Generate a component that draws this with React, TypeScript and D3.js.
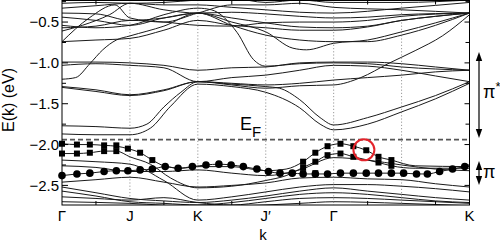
import React from "react";
import * as d3 from "d3";

const W = 500;
const H = 242;

// k-path: Γ=0, J=1, K=2, J'=3, Γ=4, K=6
const kLabels = ["Γ", "J", "K", "J′", "Γ", "K"];
const kLabelPos = [0, 1, 2, 3, 4, 6];
const dottedK = [1, 2, 3, 4, 5];
const xMinorTicks = [0.5, 1.5, 2.5, 3.5, 4.5, 5.5];
const yMajorTicks = [-0.5, -1.0, -1.5, -2.0, -2.5];
const yMinorTicks = [-0.25, -0.75, -1.25, -1.75, -2.25];
const fermiE = -1.94;
const E_MIN = -2.74;
const E_MAX = -0.23;

// pi* (conduction) bands, [k, E(eV)]
const bandsUpper: number[][][] = [
  [[0,-1.77],[0.5,-1.78],[1,-1.80],[1.25,-1.75],[1.5,-1.54],[1.75,-1.36],[2,-1.23],[2.5,-1.26],[3,-1.29],[3.2,-1.31],[3.5,-1.45],[3.8,-1.67],[4,-1.76],[4.5,-1.67],[5,-1.54],[5.5,-1.40],[6,-1.23]],
  [[0,-1.87],[0.5,-1.88],[1,-1.88],[1.3,-1.80],[1.6,-1.53],[2,-1.26],[2.5,-1.29],[3,-1.36],[3.5,-1.55],[3.8,-1.75],[4,-1.82],[4.5,-1.75],[5,-1.60],[5.5,-1.44],[6,-1.25]],
  [[0,-1.29],[0.5,-1.33],[1,-1.39],[1.5,-1.33],[2,-1.23],[2.5,-1.25],[3,-1.27],[3.5,-1.25],[4,-1.21],[4.5,-1.18],[5,-1.15],[5.5,-1.11],[6,-1.09]],
  [[0,-0.99],[0.5,-0.99],[1,-1.00],[1.5,-1.03],[2,-1.09],[2.5,-1.06],[3,-1.05],[3.5,-1.00],[4,-0.99],[4.5,-0.99],[5,-1.01],[5.5,-1.05],[6,-1.09]],
  [[0,-1.03],[0.5,-1.01],[1,-1.03],[1.5,-1.06],[2,-1.23],[2.5,-1.18],[3,-1.15],[3.5,-1.09],[4,-1.03],[4.5,-1.04],[5,-1.09],[5.5,-1.16],[6,-1.23]],
  [[0,-1.20],[0.2,-1.18],[0.41,-1.01],[0.6,-0.84],[0.8,-0.72],[1,-0.67],[1.5,-0.55],[2,-0.39],[2.5,-0.50],[3,-0.62],[3.4,-0.82],[3.6,-0.84],[4,-0.76],[4.5,-0.72],[5,-0.62],[5.5,-0.51],[6,-0.39]],
  [[0,-0.74],[0.4,-0.45],[0.78,-0.29],[1,-0.45],[1.5,-0.50],[2,-0.39],[2.5,-0.29],[3,-0.29],[3.5,-0.27],[4,-0.32],[5,-0.35],[6,-0.39]],
  [[0,-1.30],[0.5,-1.35],[1,-1.40],[1.5,-1.34],[2,-1.23],[2.5,-1.27],[3,-1.31],[3.5,-1.28],[4,-1.27],[4.4,-1.18],[4.8,-1.01],[5.2,-0.85],[5.6,-0.67],[6,-0.41]],
  [[0,-0.54],[0.5,-0.57],[1,-0.54],[1.5,-0.41],[2,-0.33],[2.2,-0.35],[2.58,-0.63],[2.82,-0.96],[3,-1.04],[3.5,-1.01],[4,-1.00],[4.5,-1.01],[5,-1.05],[6,-1.09]],
  [[0,-0.27],[0.5,-0.26],[1,-0.27],[1.5,-0.26],[2,-0.23],[2.5,-0.21],[3,-0.26],[3.5,-0.23],[4,-0.26],[5,-0.26],[6,-0.23]],
  [[0,-0.33],[0.5,-0.30],[1,-0.27],[1.5,-0.35],[2,-0.39],[2.5,-0.38],[3,-0.40],[3.5,-0.43],[4,-0.45],[4.5,-0.44],[5,-0.41],[6,-0.39]],
  [[0,-0.39],[0.5,-0.40],[1,-0.48],[1.5,-0.45],[2,-0.39],[2.5,-0.45],[3,-0.51],[3.5,-0.56],[4,-0.57],[4.5,-0.55],[5,-0.48],[5.5,-0.43],[6,-0.39]],
  [[0,-0.74],[0.5,-0.72],[1,-0.70],[1.5,-0.60],[2,-0.48],[2.5,-0.54],[3,-0.57],[3.5,-0.60],[4,-0.60],[4.5,-0.56],[5,-0.48],[5.5,-0.43],[6,-0.39]],
  [[0,-0.57],[0.5,-0.55],[1,-0.48],[1.5,-0.50],[2,-0.54],[2.5,-0.55],[3,-0.51],[3.5,-0.50],[4,-0.50],[4.5,-0.48],[5,-0.43],[6,-0.39]],
  [[0,-0.61],[0.3,-0.54],[0.7,-0.41],[1,-0.27],[1.5,-0.29],[2,-0.29],[2.5,-0.32],[3,-0.35],[3.5,-0.38],[4,-0.39],[5,-0.33],[6,-0.26]],
  [[0,-0.44],[0.5,-0.48],[1,-0.54],[1.5,-0.45],[2,-0.39],[2.5,-0.54],[3,-0.66],[3.5,-0.72],[4,-0.74],[4.5,-0.74],[5,-0.66],[5.5,-0.54],[6,-0.39]],
];

// pi (valence) bands, [k, E(eV)]
const bandsLower: number[][][] = [
  [[0,-1.99],[0.22,-2.00],[0.41,-2.00],[0.62,-2.01],[0.8,-2.02],[0.97,-2.05],[1.15,-2.10],[1.33,-2.19],[1.5,-2.26],[1.75,-2.29],[2,-2.27],[2.5,-2.27],[3,-2.32],[3.3,-2.30],[3.55,-2.21],[3.73,-2.10],[3.91,-2.02],[4.1,-1.99],[4.29,-2.02],[4.48,-2.07],[4.66,-2.15],[4.85,-2.19],[5.2,-2.26],[6,-2.27]],
  [[0,-2.11],[0.22,-2.11],[0.41,-2.10],[0.62,-2.08],[0.8,-2.08],[1,-2.15],[1.3,-2.24],[1.6,-2.41],[2,-2.53],[2.5,-2.51],[3,-2.44],[3.3,-2.38],[3.55,-2.28],[3.73,-2.21],[3.91,-2.13],[4.1,-2.11],[4.29,-2.15],[4.66,-2.22],[4.85,-2.26],[5.2,-2.29],[6,-2.29]],
  [[0,-2.19],[0.5,-2.21],[1,-2.24],[1.5,-2.44],[2,-2.68],[2.5,-2.64],[3,-2.58],[3.5,-2.52],[4,-2.49],[4.5,-2.49],[5,-2.51],[5.5,-2.54],[6,-2.58]],
  [[0,-2.46],[0.5,-2.43],[1,-2.40],[1.5,-2.46],[2,-2.52],[2.5,-2.50],[3,-2.47],[3.5,-2.41],[4,-2.40],[4.5,-2.42],[5,-2.43],[5.5,-2.48],[6,-2.52]],
  [[0,-2.52],[0.5,-2.59],[1,-2.66],[1.5,-2.69],[2,-2.71],[2.5,-2.68],[3,-2.63],[3.5,-2.57],[4,-2.53],[4.5,-2.57],[5,-2.61],[5.5,-2.65],[6,-2.68]],
  [[0,-2.57],[0.5,-2.63],[1,-2.70],[1.5,-2.72],[2,-2.74],[2.5,-2.71],[3,-2.66],[3.5,-2.61],[4,-2.59],[4.5,-2.61],[5,-2.65],[5.5,-2.69],[6,-2.71]],
  [[0,-2.64],[0.5,-2.66],[1,-2.68],[1.5,-2.65],[2,-2.71],[2.5,-2.74],[3,-2.70],[3.5,-2.66],[4,-2.65],[4.5,-2.66],[5,-2.68],[5.5,-2.70],[6,-2.72]],
  [[0,-2.70],[1,-2.72],[2,-2.76],[3,-2.74],[3.5,-2.72],[4,-2.70],[5,-2.72],[6,-2.75]],
  [[0,-2.26],[0.5,-2.28],[1,-2.33],[1.5,-2.33],[2,-2.31],[2.5,-2.35],[3,-2.38],[3.5,-2.31],[4,-2.16],[4.5,-2.19],[5,-2.25],[5.5,-2.30],[6,-2.32]],
];

// circle markers (projected weight), on the lowest pi band
const circleK = [0,0.22,0.41,0.62,0.80,0.97,1.15,1.33,1.52,1.71,1.92,2.12,2.31,2.49,2.67,2.87,3.04,3.21,3.39,3.55,3.73,3.91,4.10,4.29,4.48,4.66,4.85,5.03,5.22,5.38,5.56,5.75,5.93];
const circleE = [-2.38,-2.36,-2.35,-2.33,-2.32,-2.32,-2.31,-2.30,-2.27,-2.29,-2.27,-2.25,-2.24,-2.25,-2.27,-2.30,-2.33,-2.35,-2.35,-2.36,-2.36,-2.36,-2.35,-2.35,-2.35,-2.35,-2.35,-2.35,-2.36,-2.36,-2.33,-2.30,-2.27];
const circleBandEnd = [6, -2.26];

// square markers
const sq1K = [0,0.22,0.41,0.62,0.80,0.97,1.15,1.33,3.55,3.73,3.91,4.10,4.29,4.48,4.66,4.85];
const sq1E = [-1.99,-2.00,-2.00,-2.01,-2.01,-2.05,-2.10,-2.19,-2.21,-2.10,-2.02,-1.99,-2.02,-2.07,-2.15,-2.19];
const sq2K = [0,0.22,0.41,0.62,0.80,3.55,3.73,3.91,4.10,4.29,4.66,4.85];
const sq2E = [-2.11,-2.11,-2.10,-2.08,-2.08,-2.28,-2.21,-2.13,-2.11,-2.15,-2.22,-2.26];
const sq3K = [3.55, 3.73];
const sq3E = [-2.35, -2.35];

// highlighted point
const highlightK = 4.445;
const highlightE = -2.065;

const FONT = "'Liberation Sans', Arial, Helvetica, sans-serif";

export default function App() {
  const left = 62, right = 469.5, top = 0.5, bottom = 205;
  const x = d3.scaleLinear().domain([0, 6]).range([left, right]);
  const y = d3.scaleLinear().domain([E_MIN, E_MAX]).range([bottom, 0]);
  const line = d3
    .line<number[]>()
    .x((d) => x(d[0]))
    .y((d) => y(d[1]))
    .curve(d3.curveMonotoneX);

  const circlePts = circleK.map((k, i) => [k, circleE[i]]).concat([circleBandEnd]);
  const sqSize = 6;
  const squares = [
    ...sq1K.map((k, i) => [k, sq1E[i]]),
    ...sq2K.map((k, i) => [k, sq2E[i]]),
    ...sq3K.map((k, i) => [k, sq3E[i]]),
  ];
  const arrowX = 479;

  const arrowHead = (xc: number, yTip: number, dir: number) =>
    `M${xc},${yTip} L${xc - 3.2},${yTip - dir * 9} L${xc + 3.2},${yTip - dir * 9} Z`;

  return (
    <svg
      width={W}
      height={H}
      style={{ position: "absolute", left: 0, top: 0, background: "#fff" }}
      fontFamily={FONT}
    >
      <defs>
        <clipPath id="plotClip">
          <rect x={left} y={0} width={right - left} height={bottom} />
        </clipPath>
      </defs>

      {/* dotted symmetry lines */}
      {dottedK.map((k) => (
        <line key={"d" + k} x1={x(k)} x2={x(k)} y1={0} y2={bottom}
          stroke="#999" strokeWidth={1} strokeDasharray="1.2,2" />
      ))}

      <g clipPath="url(#plotClip)" fill="none" stroke="#1a1a1a" strokeWidth={1}>
        {bandsUpper.map((b, i) => (
          <path key={"u" + i} d={line(b) || ""} />
        ))}
        {bandsLower.map((b, i) => (
          <path key={"l" + i} d={line(b) || ""} />
        ))}
        <path d={line(circlePts) || ""} />
      </g>

      {/* Fermi level */}
      <line x1={left} x2={right} y1={y(fermiE)} y2={y(fermiE)}
        stroke="#555" strokeWidth={1.6} strokeDasharray="5,3" />

      {/* markers */}
      <g fill="#000">
        {circleK.map((k, i) => (
          <circle key={"c" + i} cx={x(k)} cy={y(circleE[i])} r={3.8} />
        ))}
        {squares.map((p, i) => (
          <rect key={"s" + i} x={x(p[0]) - sqSize / 2} y={y(p[1]) - sqSize / 2}
            width={sqSize} height={sqSize} />
        ))}
      </g>

      {/* highlight */}
      <circle cx={x(highlightK)} cy={y(highlightE)} r={10.5} fill="none"
        stroke="#e3242b" strokeWidth={2} />

      {/* frame */}
      <rect x={left} y={top} width={right - left} height={bottom - top}
        fill="none" stroke="#000" strokeWidth={1} />

      {/* y ticks */}
      {yMajorTicks.map((v) => (
        <g key={"ym" + v}>
          <line x1={left} x2={left + 6} y1={y(v)} y2={y(v)} stroke="#000" />
          <line x1={right} x2={right - 5} y1={y(v)} y2={y(v)} stroke="#000" />
          <text x={59} y={y(v)} dy="0.36em" textAnchor="end" fontSize={15} fill="#000">
            {"\u2212" + Math.abs(v).toFixed(1)}
          </text>
        </g>
      ))}
      {yMinorTicks.map((v) => (
        <g key={"yn" + v}>
          <line x1={left} x2={left + 4} y1={y(v)} y2={y(v)} stroke="#000" />
          <line x1={right} x2={right - 4} y1={y(v)} y2={y(v)} stroke="#000" />
        </g>
      ))}

      {/* x ticks */}
      {xMinorTicks.map((k) => (
        <g key={"xt" + k}>
          <line x1={x(k)} x2={x(k)} y1={bottom} y2={bottom - 4} stroke="#000" />
          <line x1={x(k)} x2={x(k)} y1={top} y2={top + 4} stroke="#000" />
        </g>
      ))}
      {kLabels.map((lab, i) => (
        <text key={"xl" + i} x={x(kLabelPos[i])} y={221} textAnchor="middle" fontSize={15} fill="#000">
          {lab}
        </text>
      ))}
      <text x={263} y={240} textAnchor="middle" fontSize={15} fill="#000">k</text>
      <text transform="translate(14,100) rotate(-90)" textAnchor="middle" fontSize={16} fill="#000">
        E(k) (eV)
      </text>

      {/* E_F label */}
      <text x={240} y={130} fontSize={18} fill="#000">
        E<tspan dy={7} fontSize={15}>F</tspan>
      </text>

      {/* pi* and pi arrows */}
      <g stroke="#000" strokeWidth={1.2}>
        <line x1={arrowX} x2={arrowX} y1={58} y2={132} />
        <line x1={arrowX} x2={arrowX} y1={167} y2={179} />
      </g>
      <g fill="#000">
        <path d={arrowHead(arrowX, 52, -1)} />
        <path d={arrowHead(arrowX, 138, 1)} />
        <path d={arrowHead(arrowX, 161, -1)} />
        <path d={arrowHead(arrowX, 185, 1)} />
      </g>
      <text x={483} y={98} fontSize={18} fill="#000">
        π<tspan dy={-7} fontSize={13}>*</tspan>
      </text>
      <text x={483} y={178} fontSize={18} fill="#000">π</text>
    </svg>
  );
}
